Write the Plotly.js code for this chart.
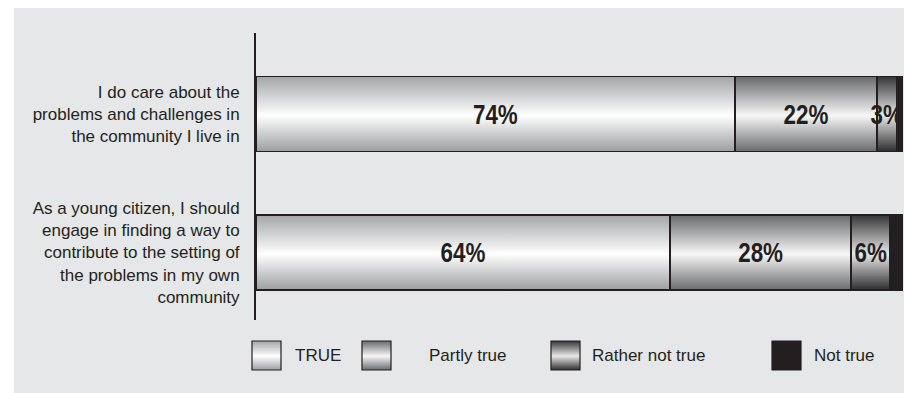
<!DOCTYPE html>
<html>
<head>
<meta charset="utf-8">
<script src="https://cdn.plot.ly/plotly-3.0.1.min.js"></script>
<style>
  html, body { margin: 0; padding: 0; background: #ffffff; width: 905px; height: 393px; overflow: hidden; }
  #chart { position: absolute; left: 14px; top: 8px; width: 890px; height: 385px; }
</style>
</head>
<body>
<div id="chart"></div>
<script>
// ---- data ----
var categories = [
  "I do care about the<br>problems and challenges in<br>the community I live in",
  "As a young citizen, I should<br>engage in finding a way to<br>contribute to the setting of<br>the problems in my own<br>community"
];
var seriesNames = ["TRUE", "Partly true", "Rather not true", "Not true"];
var trueVals = [74, 64];
var partlyTrueVals = [22, 28];
var ratherNotTrueVals = [3, 6];
var notTrueVals = [1, 2];

// ---- styles ----
var ink = "#231f20";
var bg = "#e6e7e8";
var gradients = [
  [["0", "#a3a5a8"], ["0.52", "#ffffff"], ["1", "#9c9ea1"]],
  [["0", "#68696c"], ["0.52", "#f7f7f7"], ["1", "#6a6b6e"]],
  [["0", "#353537"], ["0.52", "#e8e8e8"], ["1", "#2e2e30"]],
  [["0", ink], ["1", ink]]
];
var labelFont = "Liberation Sans, Arial, sans-serif";
var valueFont = "Liberation Sans, Arial, sans-serif";
var valueSqueeze = 0.8;

var series = [trueVals, partlyTrueVals, ratherNotTrueVals, notTrueVals];
var traces = series.map(function (vals, i) {
  return {
    type: "bar",
    orientation: "h",
    name: seriesNames[i],
    y: categories,
    x: vals,
    width: 0.54,
    text: i < 3 ? vals.map(function (v) { return v + "%"; }) : vals.map(function () { return ""; }),
    textposition: "inside",
    insidetextanchor: "middle",
    constraintext: "none",
    textangle: 0,
    textfont: { family: valueFont, size: 28, color: ink, weight: "bold" },
    marker: { color: gradients[i][0][1], line: { color: ink, width: 1.5 } },
    showlegend: false,
    hoverinfo: "skip"
  };
});

// legend built from series names (positions in pixels relative to plot area)
var legendSwatchX = [-4, 106, 295, 516];
var legendTextX = [37, 171, 334, 556];
var shapes = [];
var annotations = [];
seriesNames.forEach(function (name, i) {
  shapes.push({
    type: "rect", layer: "above",
    xref: "paper", yref: "paper",
    xsizemode: "pixel", ysizemode: "pixel",
    xanchor: 0, yanchor: 0,
    x0: legendSwatchX[i], x1: legendSwatchX[i] + 29,
    y0: -21, y1: -50,
    fillcolor: gradients[i][0][1],
    line: { color: ink, width: 1.2 }
  });
  annotations.push({
    xref: "paper", yref: "paper", x: 0, y: 0,
    xshift: legendTextX[i], yshift: -35,
    xanchor: "left", yanchor: "middle",
    text: name, showarrow: false,
    font: { family: labelFont, size: 17, color: ink }
  });
});

var layout = {
  width: 890, height: 385,
  margin: { l: 242, r: 1, t: 25, b: 73, pad: 0 },
  paper_bgcolor: bg,
  plot_bgcolor: bg,
  barmode: "stack",
  showlegend: false,
  xaxis: { visible: false, range: [0, 100], fixedrange: true },
  yaxis: {
    type: "category",
    range: [1.487, -0.585],
    showline: true, linewidth: 2, linecolor: ink,
    showgrid: false, zeroline: false, ticks: "",
    ticklabelstandoff: 11,
    tickfont: { family: labelFont, size: 17, color: ink },
    fixedrange: true
  },
  shapes: shapes,
  annotations: annotations,
  hovermode: false
};

var gd = document.getElementById("chart");
Plotly.newPlot(gd, traces, layout, { staticPlot: true, displayModeBar: false }).then(function () {
  var ns = "http://www.w3.org/2000/svg";
  var svg = gd.querySelector("svg.main-svg");
  var defs = document.createElementNS(ns, "defs");
  svg.insertBefore(defs, svg.firstChild);
  gradients.forEach(function (stops, i) {
    var lg = document.createElementNS(ns, "linearGradient");
    lg.setAttribute("id", "rsgrad" + i);
    lg.setAttribute("x1", "0"); lg.setAttribute("y1", "0");
    lg.setAttribute("x2", "0"); lg.setAttribute("y2", "1");
    stops.forEach(function (s) {
      var st = document.createElementNS(ns, "stop");
      st.setAttribute("offset", s[0]);
      st.setAttribute("stop-color", s[1]);
      lg.appendChild(st);
    });
    defs.appendChild(lg);
  });
  gd.querySelectorAll(".barlayer .trace").forEach(function (t, i) {
    t.querySelectorAll("path").forEach(function (p) { p.style.fill = "url(#rsgrad" + i + ")"; });
  });
  gd.querySelectorAll(".layer-above .shapelayer path").forEach(function (p, i) {
    p.style.fill = "url(#rsgrad" + i + ")";
    p.style.fillOpacity = 1;
  });
  // value labels: narrow them (condensed look) and draw them above all bars
  var barlayer = gd.querySelector(".barlayer");
  var textTop = document.createElementNS(ns, "g");
  var texts = Array.prototype.slice.call(gd.querySelectorAll(".barlayer text.bartext"));
  texts.forEach(function (el) {
    var bb = el.getBBox();
    var cx = bb.x + bb.width / 2;
    var cur = el.getAttribute("transform") || "";
    el.setAttribute("transform", cur + " translate(" + cx + ",0) scale(" + valueSqueeze + ",1) translate(" + (-cx) + ",0)");
    textTop.appendChild(el);
  });
  barlayer.appendChild(textTop);
});
</script>
</body>
</html>
